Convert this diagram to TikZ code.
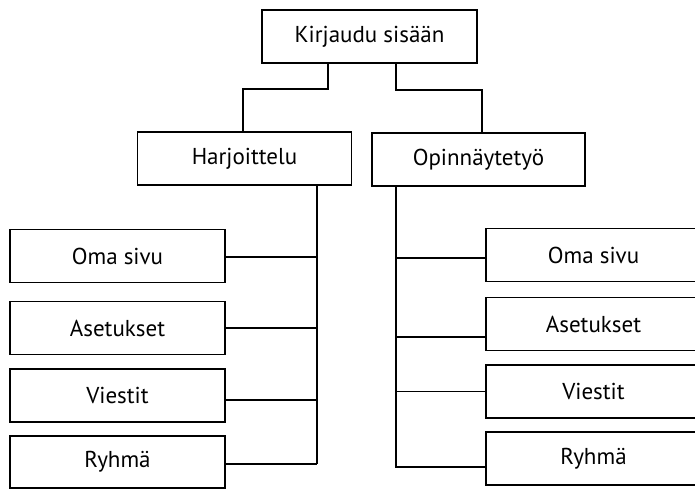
\documentclass[tikz,border=0pt]{standalone}
\usepackage{fontspec}
\setmainfont{PT Sans}
\usetikzlibrary{calc}
\begin{document}
\begin{tikzpicture}[x=1pt,y=-1pt,
  box/.style={draw=black,line width=1.9pt,fill=white,minimum width=215pt,minimum height=53pt,inner sep=0pt,font=\fontsize{23}{27}\selectfont},
  conn/.style={draw=black,line width=1.9pt}]
\useasboundingbox (0,0) rectangle (695,489);
\begin{scope}
\clip (0,0) rectangle (695,489);
\node[box] (top) at (369.5,36.5) {Kirjaudu sisään};
\node[box,minimum width=214pt] (harj) at (244.5,158.5) {Harjoittelu};
\node[box,minimum width=213pt] (opin) at (478.5,159.5) {Opinnäytetyö};
\node[box] (l1) at (117.5,256) {Oma sivu};
\node[box] (l2) at (117.5,328) {Asetukset};
\node[box] (l3) at (117.5,395.5) {Viestit};
\node[box,minimum height=52pt] (l4) at (117.5,462) {Ryhmä};
\node[box] (r1) at (593.5,255) {Oma sivu};
\node[box] (r2) at (593.5,324) {Asetukset};
\node[box] (r3) at (593.5,391.5) {Viestit};
\node[box] (r4) at (593.5,458.5) {Ryhmä};
\draw[conn] ($(top.south)+(-41.5,0)$) -- ++(0,25) -| ($(harj.north)+(-1.5,0)$);
\draw[conn] ($(top.south)+(26.5,0)$) -- ++(0,26) -| ($(opin.north)+(3.5,0)$);
% left trunk
\coordinate (ht) at ($(harj.south)+(72.5,0)$);
\draw[conn] (ht) -- (ht |- {$(l4.east)+(0,2)$});
\draw[conn] ($(l1.east)+(0,1)$) -- (ht |- {$(l1.east)+(0,1)$});
\draw[conn] (l2.east) -- (ht |- l2.east);
\draw[conn] ($(l3.east)+(0,4.5)$) -- (ht |- {$(l3.east)+(0,4.5)$});
\draw[conn] ($(l4.east)+(0,2)$) -- (ht |- {$(l4.east)+(0,2)$});
% right trunk
\coordinate (ot) at ($(opin.south)+(-82.5,0)$);
\draw[conn] (ot) -- (ot |- {$(r4.west)+(0,8.5)$}) -- ($(r4.west)+(0,8.5)$);
\draw[conn] (ot |- {$(r1.west)+(0,3)$}) -- ($(r1.west)+(0,3)$);
\draw[conn] (ot |- {$(r2.west)+(0,13)$}) -- ($(r2.west)+(0,13)$);
\draw[conn] (ot |- r3.west) -- (r3.west);
\end{scope}
\end{tikzpicture}
\end{document}
